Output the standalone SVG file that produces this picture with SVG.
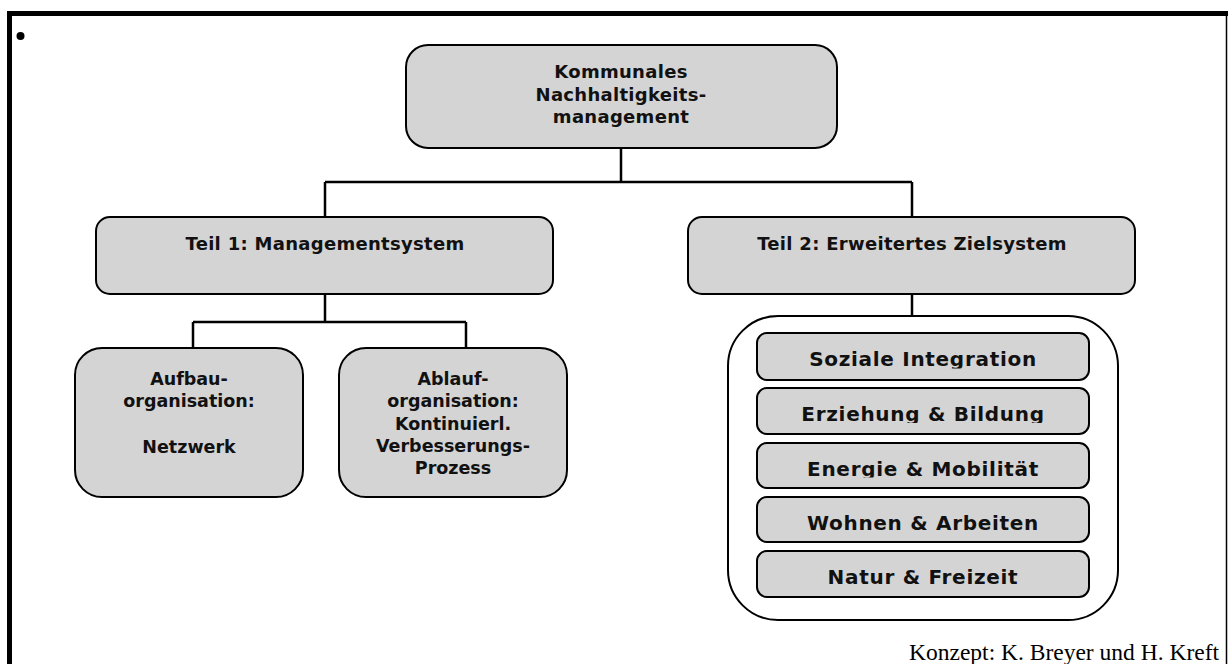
<svg xmlns="http://www.w3.org/2000/svg" width="1228" height="664" viewBox="0 0 1228 664">
  <style>
    .box { fill: #d4d4d4; stroke: #000; stroke-width: 2; }
    .frame { fill: #fff; stroke: #000; stroke-width: 2; }
    .lbl { font-family: "DejaVu Sans", Verdana, sans-serif; font-weight: bold; font-size: 18px; letter-spacing: 0.3px; fill: #111; text-anchor: middle; }
    .sub { font-size: 17.5px; letter-spacing: 0; }
    .row { font-family: "DejaVu Sans", Verdana, sans-serif; font-weight: bold; font-size: 20px; letter-spacing: 0.7px; fill: #111; text-anchor: middle; }
    .wire { fill: none; stroke: #000; stroke-width: 2.5; }
    .credit { font-family: "Liberation Serif", "Times New Roman", serif; font-size: 23.5px; fill: #000; text-anchor: end; }
  </style>
  <defs>
    <!-- each topic label is cut just below its baseline -->
    <clipPath id="cut1" clipPathUnits="userSpaceOnUse"><rect x="757" y="333" width="332" height="35.5"/></clipPath>
    <clipPath id="cut2" clipPathUnits="userSpaceOnUse"><rect x="757" y="388" width="332" height="35"/></clipPath>
    <clipPath id="cut3" clipPathUnits="userSpaceOnUse"><rect x="757" y="443" width="332" height="34.5"/></clipPath>
    <clipPath id="cut4" clipPathUnits="userSpaceOnUse"><rect x="757" y="497" width="332" height="34.5"/></clipPath>
    <clipPath id="cut5" clipPathUnits="userSpaceOnUse"><rect x="757" y="551" width="332" height="35.5"/></clipPath>
  </defs>

  <rect width="1228" height="664" fill="#fff"/>

  <!-- page frame -->
  <g id="page-frame">
    <rect x="7" y="11" width="1221" height="5" fill="#000"/>
    <rect x="7" y="11" width="5" height="653" fill="#000"/>
    <line x1="1226.5" y1="16" x2="1226.5" y2="664" stroke="#000" stroke-width="1.5"/>
    <circle cx="20.5" cy="36" r="4" fill="#000"/>
  </g>

  <!-- connectors -->
  <g id="connectors">
    <path class="wire" d="M621 148 V182 M325 182 H912 M325 182 V217 M912 182 V217"/>
    <path class="wire" d="M325 294 V322 M193 322 H466 M193 322 V348 M466 322 V348"/>
    <path class="wire" d="M912 294 V316"/>
  </g>

  <g id="root">
    <rect class="box" x="406" y="45" width="431" height="103" rx="22"/>
    <text class="lbl" x="621" y="78">Kommunales</text>
    <text class="lbl" x="621" y="101">Nachhaltigkeits-</text>
    <text class="lbl" x="621" y="123">management</text>
  </g>

  <g id="teil1">
    <rect class="box" x="96" y="217" width="457" height="77" rx="14"/>
    <text class="lbl" x="325" y="250">Teil 1: Managementsystem</text>
  </g>

  <g id="teil2">
    <rect class="box" x="688" y="217" width="447" height="77" rx="14"/>
    <text class="lbl" x="912" y="250">Teil 2: Erweitertes Zielsystem</text>
  </g>

  <g id="aufbau">
    <rect class="box" x="75" y="348" width="228" height="149" rx="27"/>
    <text class="lbl sub" x="189" y="385">Aufbau-</text>
    <text class="lbl sub" x="189" y="407">organisation:</text>
    <text class="lbl sub" x="189" y="453">Netzwerk</text>
  </g>

  <g id="ablauf">
    <rect class="box" x="339" y="348" width="228" height="149" rx="27"/>
    <text class="lbl sub" x="453" y="385">Ablauf-</text>
    <text class="lbl sub" x="453" y="407">organisation:</text>
    <text class="lbl sub" x="453" y="430">Kontinuierl.</text>
    <text class="lbl sub" x="453" y="452">Verbesserungs-</text>
    <text class="lbl sub" x="453" y="474">Prozess</text>
  </g>

  <g id="zielsystem">
    <rect class="frame" x="728" y="316" width="390" height="304" rx="50"/>
  </g>

  <g id="soziales">
    <rect class="box" x="757" y="333" width="332" height="47" rx="10"/>
    <text class="row" x="923" y="366" clip-path="url(#cut1)">Soziale Integration</text>
  </g>
  <g id="bildung">
    <rect class="box" x="757" y="388" width="332" height="46" rx="10"/>
    <text class="row" x="923" y="421" clip-path="url(#cut2)">Erziehung &amp; Bildung</text>
  </g>
  <g id="energie">
    <rect class="box" x="757" y="443" width="332" height="45" rx="10"/>
    <text class="row" x="923" y="475.5" clip-path="url(#cut3)">Energie &amp; Mobilität</text>
  </g>
  <g id="wohnen">
    <rect class="box" x="757" y="497" width="332" height="45" rx="10"/>
    <text class="row" x="923" y="529.5" clip-path="url(#cut4)">Wohnen &amp; Arbeiten</text>
  </g>
  <g id="natur">
    <rect class="box" x="757" y="551" width="332" height="46" rx="10"/>
    <text class="row" x="923" y="584" clip-path="url(#cut5)">Natur &amp; Freizeit</text>
  </g>

  <text class="credit" x="1219" y="660">Konzept: K. Breyer und H. Kreft</text>
</svg>
